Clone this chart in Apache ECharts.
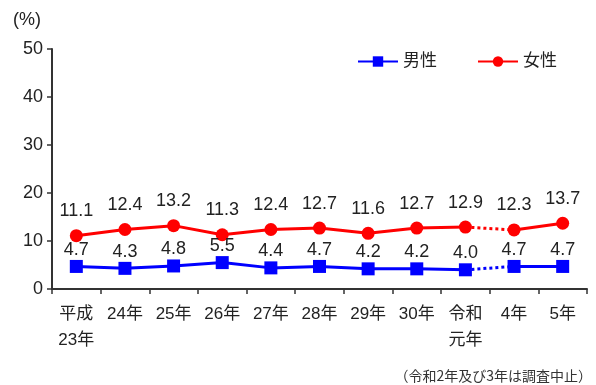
<!DOCTYPE html>
<html><head><meta charset="utf-8">
<script src="https://cdn.jsdelivr.net/npm/echarts@6/dist/echarts.min.js"></script>
<style>html,body{margin:0;padding:0;background:#fff}#c{width:596px;height:385px}</style>
</head><body><div id="c"></div>
<script>
const categories = ['平成\n23年','24年','25年','26年','27年','28年','29年','30年','令和\n元年','4年','5年'];
const male = [4.7,4.3,4.8,5.5,4.4,4.7,4.2,4.2,4.0,4.7,4.7];
const female = [11.1,12.4,13.2,11.3,12.4,12.7,11.6,12.7,12.9,12.3,13.7];
const yTicks = [0,10,20,30,40,50];
const gapStart = 8; // last surveyed before suspension (令和元年)
const note = '（令和2年及び3年は調査中止）';
const unit = '(%)';

const font = "'Liberation Sans','Noto Sans CJK JP',sans-serif";
function part(arr, from, to){ return arr.map((v,i)=> (i>=from && i<=to) ? v : '-'); }
function mk(name, arr, color, symbol, labelDist){
  const base = {
    type:'line', name, symbol, symbolSize:13, color,
    lineStyle:{color, width:3}, itemStyle:{color},
    label:{show:true, position:'top', distance:labelDist, fontSize:18, color:'#222', fontFamily:font,
      formatter:p=>Number(p.value).toFixed(1)},
    emphasis:{disabled:true}, animation:false
  };
  return [
    Object.assign({}, base, {data: part(arr,0,gapStart)}),
    Object.assign({}, base, {data: part(arr,gapStart+1,arr.length-1)}),
    {type:'line', name, data: part(arr,gapStart,gapStart+1), showSymbol:false, symbol:'none', color,
     lineStyle:{color, width:3, type:[3,3]}, label:{show:false}, z:1, animation:false, emphasis:{disabled:true}}
  ];
}
const chart = echarts.init(document.getElementById('c'));
chart.setOption({
  backgroundColor:'#fff',
  textStyle:{fontFamily:font},
  grid:{left:52,right:9,top:49,bottom:96},
  legend:{data:['男性','女性'], top:48, left:352, itemWidth:40, itemHeight:13, itemGap:40,
    textStyle:{fontSize:17,color:'#222',fontFamily:font}},
  xAxis:{type:'category', data:categories, boundaryGap:true,
    axisLine:{lineStyle:{color:'#333',width:2}},
    axisTick:{show:true, length:5, alignWithLabel:false, lineStyle:{color:'#333',width:1.5}},
    axisLabel:{fontSize:17, color:'#222', margin:12, lineHeight:26, fontFamily:font}},
  yAxis:{type:'value', min:yTicks[0], max:yTicks[yTicks.length-1], interval:10,
    axisLine:{show:true, lineStyle:{color:'#333',width:2}},
    axisTick:{show:true, length:5, lineStyle:{color:'#333',width:1.5}},
    splitLine:{show:false},
    axisLabel:{fontSize:18, color:'#222', margin:9, fontFamily:font}},
  graphic:[
    {type:'text', left:13, top:11, style:{text:unit, font:"18px 'Liberation Sans'", fill:'#222'}},
    {type:'text', right:4, bottom:2, style:{text:note, font:"14px 'Noto Sans CJK JP'", fill:'#333'}}
  ],
  series:[...mk('男性', male, '#0000FF', 'rect', 1), ...mk('女性', female, '#FF0000', 'circle', 9)]
});
</script></body></html>
